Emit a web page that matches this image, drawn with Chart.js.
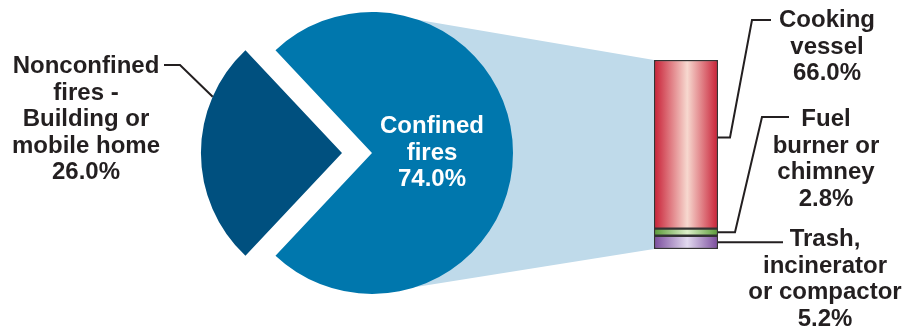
<!DOCTYPE html>
<html>
<head>
<meta charset="utf-8">
<script src="https://cdn.jsdelivr.net/npm/chart.js@4.4.1/dist/chart.umd.min.js"></script>
<style>
  html, body { margin: 0; padding: 0; background: #ffffff; }
  #wrap { position: relative; width: 919px; height: 330px; }
  #wrap canvas { position: absolute; left: 0; top: 0; }
  #barChart { z-index: 1; }
  #pieChart { z-index: 2; }
</style>
</head>
<body>
<div id="wrap">
  <canvas id="barChart" width="919" height="330"></canvas>
  <canvas id="pieChart" width="919" height="330"></canvas>
</div>
<script>
// ==== DATA ====
const pieLabels = ['Nonconfined fires - Building or mobile home', 'Confined fires'];
const pieValues = [26.0, 74.0];

// breakdown of confined fires, listed top to bottom as in the column
const causeLabels = ['Cooking vessel', 'Fuel burner or chimney', 'Trash, incinerator or compactor'];
const causeValues = [66.0, 2.8, 5.2];

// text shown next to each part
const pieText = [
    ['Nonconfined', 'fires -', 'Building or', 'mobile home', '26.0%'],
    ['Confined', 'fires', '74.0%']
];
const causeText = [
    ['Cooking', 'vessel', '66.0%'],
    ['Fuel', 'burner or', 'chimney', '2.8%'],
    ['Trash,', 'incinerator', 'or compactor', '5.2%']
];

// ==== STYLE ====
const FONT = 'bold 24px "Liberation Sans", Arial, sans-serif';
const INK = '#231f20';
const LINE_H = 26.5;
const SLICE_GAP = 30; // px the dark slice is pulled out
const pieColors = ['#00507f', '#0077ad'];
const connectorColor = '#bfdaea';
const causeEdge = ['#c81f35', '#5a9a38', '#7a4b9c'];
const causeLight = ['#f7d8cf', '#dcefc9', '#e2daf0'];

function drawLines(ctx, lines, x, y0, color) {
    ctx.fillStyle = color;
    lines.forEach(function (t, i) {
        ctx.fillText(t, x, y0 + i * LINE_H);
    });
}

function polyline(ctx, pts) {
    ctx.beginPath();
    ctx.moveTo(pts[0][0], pts[0][1]);
    for (let i = 1; i < pts.length; i++) ctx.lineTo(pts[i][0], pts[i][1]);
    ctx.stroke();
}

// ==== PIE CHART ====
const darkShare = pieValues[0] / (pieValues[0] + pieValues[1]);
const pieCtx = document.getElementById('pieChart').getContext('2d');

const pieLabelPlugin = {
    id: 'pieLabels',
    afterDraw(chart) {
        const ctx = chart.ctx;
        const arcs = chart.getDatasetMeta(0).data;
        const dark = arcs[0];
        const r = dark.outerRadius;
        const vx = dark.x - SLICE_GAP; // dark slice is pushed left
        const vy = dark.y;

        ctx.save();
        ctx.font = FONT;
        ctx.textAlign = 'center';
        ctx.textBaseline = 'alphabetic';
        drawLines(ctx, pieText[1], dark.x + 60, vy - 20, '#ffffff');
        drawLines(ctx, pieText[0], 86, 73, INK);

        // leader to the dark slice
        const a = Math.atan2(-0.40, -0.92);
        ctx.strokeStyle = INK;
        ctx.lineWidth = 2;
        polyline(ctx, [[164, 65], [180, 65], [vx + r * Math.cos(a), vy + r * Math.sin(a)]]);
        ctx.restore();
    }
};

const pieChart = new Chart(pieCtx, {
    type: 'pie',
    data: {
        labels: pieLabels,
        datasets: [{
            data: pieValues,
            backgroundColor: pieColors,
            borderWidth: 0,
            // arc offset is drawn at a quarter of its value in v4
            offset: [SLICE_GAP * 4, 0]
        }]
    },
    options: {
        responsive: false,
        animation: false,
        events: [],
        radius: 141,
        rotation: 270 - darkShare * 180,
        layout: { padding: { left: 0, right: 175, top: 0, bottom: 24 } },
        plugins: {
            legend: { display: false },
            tooltip: { enabled: false }
        }
    },
    plugins: [pieLabelPlugin]
});

// ==== STACKED COLUMN ====
const barCtx = document.getElementById('barChart').getContext('2d');
const causeTotal = causeValues.reduce(function (s, v) { return s + v; }, 0);

function cylinder(i) {
    return function (c) {
        const ca = c.chart.chartArea;
        if (!ca) return causeEdge[i];
        const g = c.chart.ctx.createLinearGradient(ca.left, 0, ca.right, 0);
        g.addColorStop(0, causeEdge[i]);
        g.addColorStop(0.52, causeLight[i]);
        g.addColorStop(1, causeEdge[i]);
        return g;
    };
}

// bottom of the stack comes first
const barSets = causeValues.map(function (v, i) {
    return {
        label: causeLabels[i],
        data: [v],
        backgroundColor: cylinder(i),
        borderColor: '#333333',
        borderWidth: 1.5,
        borderSkipped: false,
        categoryPercentage: 1,
        barPercentage: 1
    };
}).reverse();

const connectorPlugin = {
    id: 'connector',
    beforeDatasetsDraw(chart) {
        const ctx = chart.ctx;
        const n = chart.data.datasets.length;
        const top = chart.getDatasetMeta(n - 1).data[0];
        const bottom = chart.getDatasetMeta(0).data[0];
        const left = top.x - top.width / 2;
        const arc = pieChart.getDatasetMeta(0).data[1];
        ctx.save();
        ctx.fillStyle = connectorColor;
        ctx.beginPath();
        ctx.moveTo(left, top.y);
        ctx.lineTo(left, bottom.base);
        ctx.lineTo(arc.x, arc.y + arc.outerRadius);
        ctx.lineTo(arc.x, arc.y - arc.outerRadius);
        ctx.closePath();
        ctx.fill();
        ctx.restore();
    },
    afterDraw(chart) {
        const ctx = chart.ctx;
        const n = chart.data.datasets.length;
        const el = function (i) { return chart.getDatasetMeta(n - 1 - i).data[0]; };
        const right = el(0).x + el(0).width / 2;
        const yAt = function (i, f) { const e = el(i); return e.y + (e.base - e.y) * f; };

        ctx.save();
        ctx.strokeStyle = INK;
        ctx.lineWidth = 2;
        polyline(ctx, [[right, yAt(0, 0.46)], [730, yAt(0, 0.46)], [752, 20], [771, 20]]);
        polyline(ctx, [[right, yAt(1, 0.5)], [735, yAt(1, 0.5)], [762, 117], [789, 117]]);
        polyline(ctx, [[right, yAt(2, 0.5)], [783, yAt(2, 0.5)]]);

        ctx.font = FONT;
        ctx.textAlign = 'center';
        ctx.textBaseline = 'alphabetic';
        drawLines(ctx, causeText[0], 827, 27, INK);
        drawLines(ctx, causeText[1], 826, 126, INK);
        drawLines(ctx, causeText[2], 825, 246, INK);
        ctx.restore();
    }
};

new Chart(barCtx, {
    type: 'bar',
    data: {
        labels: ['Confined fires'],
        datasets: barSets
    },
    options: {
        responsive: false,
        animation: false,
        events: [],
        layout: { padding: { left: 654, right: 201, top: 60, bottom: 81 } },
        scales: {
            x: { stacked: true, display: false },
            y: { stacked: true, display: false, min: 0, max: causeTotal }
        },
        plugins: {
            legend: { display: false },
            tooltip: { enabled: false }
        }
    },
    plugins: [connectorPlugin]
});
</script>
</body>
</html>
